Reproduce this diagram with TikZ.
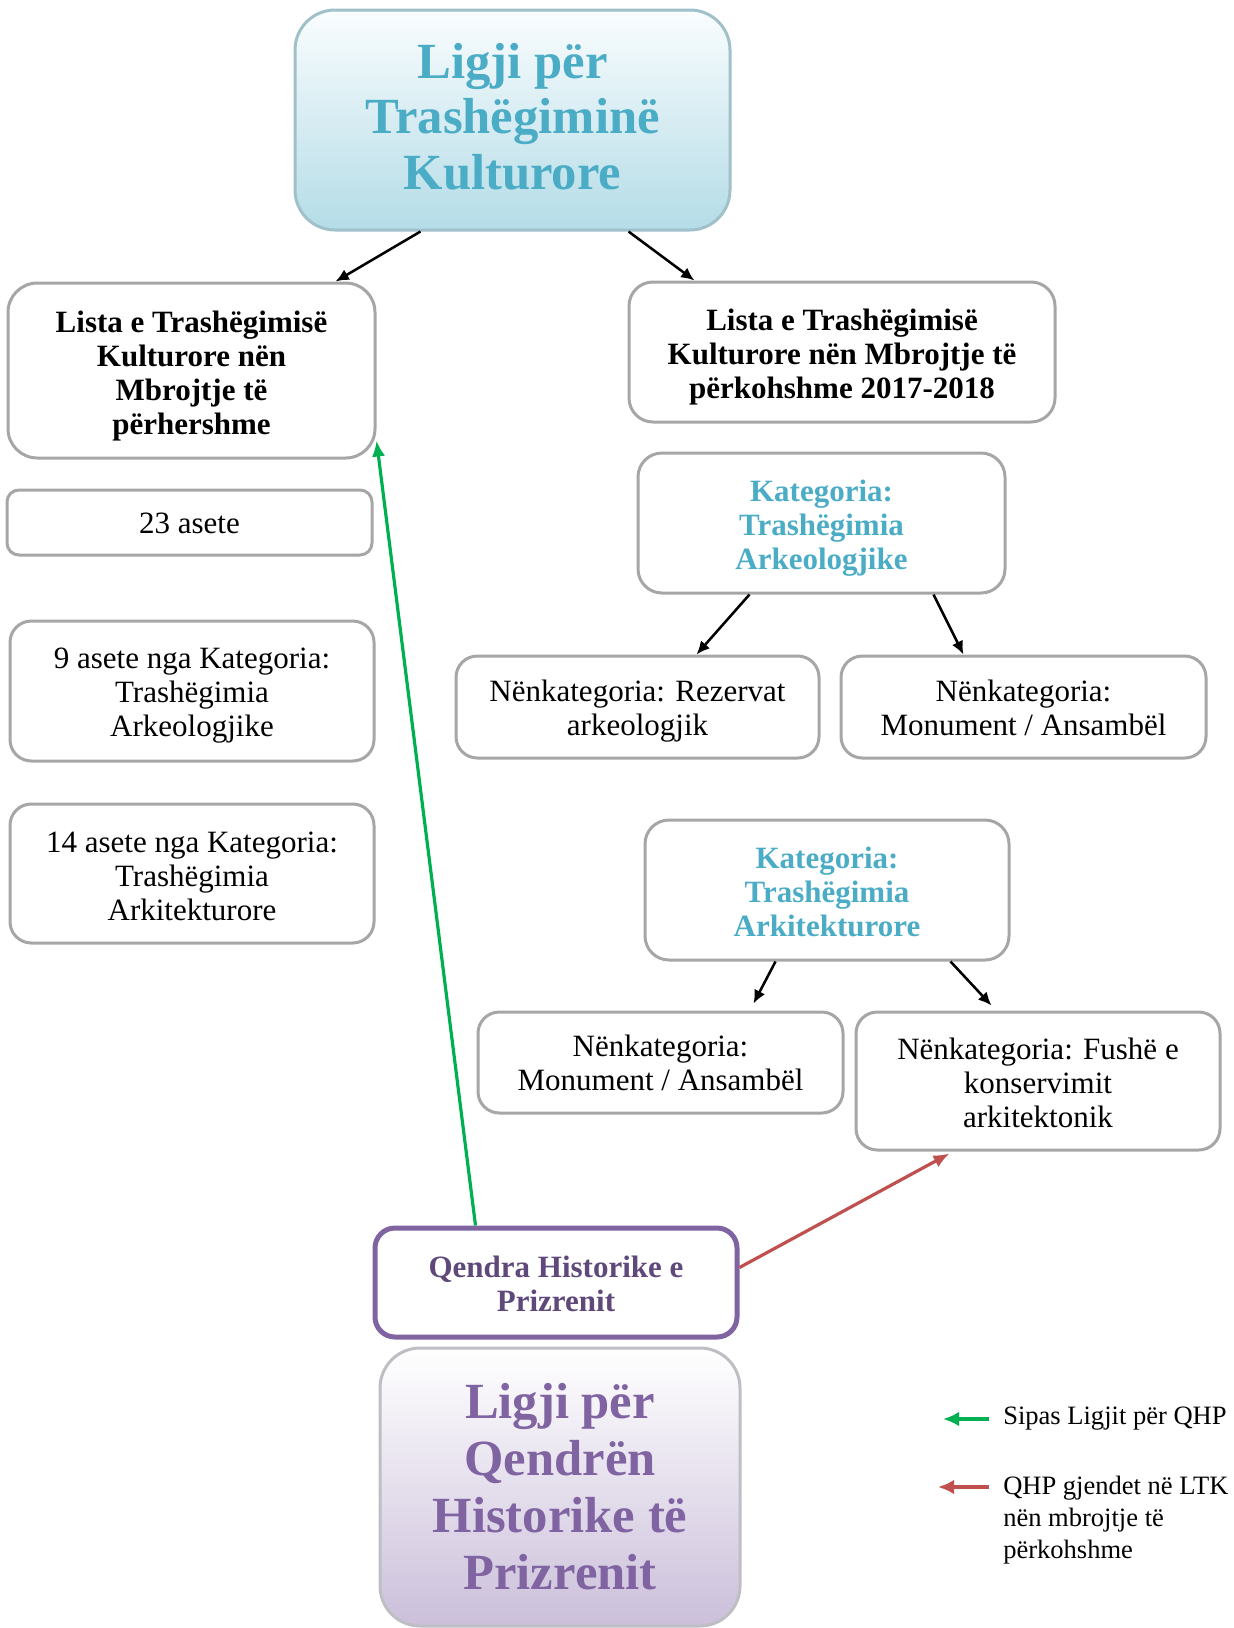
\documentclass[tikz,border=0pt]{standalone}
\usepackage{fontspec}
\setmainfont{Liberation Serif}
\usetikzlibrary{arrows.meta,calc}
\definecolor{gbord}{HTML}{A6A6A6}
\definecolor{blu}{HTML}{4BACC6}
\definecolor{purp}{HTML}{8064A2}
\definecolor{dpurp}{HTML}{5F497A}
\definecolor{grn}{HTML}{00B050}
\definecolor{redd}{HTML}{C0504D}
\begin{document}
\begin{tikzpicture}[x=0.75pt,y=-0.75pt,
  sz/.style 2 args={minimum width=#1*0.75pt, minimum height=#2*0.75pt},
  gbox/.style={draw=gbord, line width=2.25pt, rounded corners=#1, fill=white, inner sep=0pt},
  gbox/.default=16pt,
  reg/.style={inner sep=0pt, align=center, font=\fontsize{23.25}{25.5}\selectfont},
  bold/.style={inner sep=0pt, align=center, font=\fontsize{23.25}{25.5}\selectfont\bfseries},
  hbox/.style={inner sep=0pt, rounded corners=30pt, line width=2.25pt},
  heading/.style={inner sep=0pt, align=center, font=\fontsize{38}{41.6}\selectfont\bfseries},
  conn/.style={line width=1.9pt, -{Latex[length=10pt,width=9pt]}},
  legtext/.style={inner sep=0pt, align=left, anchor=west, font=\fontsize{19.9}{24}\selectfont}
]
\useasboundingbox (0,0) rectangle (1233,1628);

% top heading
\node[hbox, sz={435}{220}, draw={rgb,255:red,160;green,192;blue,202},
  top color={rgb,255:red,250;green,253;blue,254}, bottom color={rgb,255:red,180;green,220;blue,231}]
  (top) at (512.5,120) {};
\node[heading, text=blu] (topt) at ($(top)+(0,-3.6)$) {Ligji për\\Trashëgiminë\\Kulturore};

% left column
\node[gbox=22pt, sz={367}{175}] (left1) at (191.5,370.5) {};
\node[bold] (left1t) at ($(left1)+(0,6)$) {Lista e Trashëgimisë\\Kulturore nën\\Mbrojtje të\\përhershme};
\node[gbox=9pt, sz={365}{65}] (a23) at (189.5,522.5) {};
\node[reg] (a23t) at ($(a23)+(0,1)$) {23 asete};
\node[gbox, sz={364}{140}] (a9) at (192,691) {};
\node[reg] (a9t) at ($(a9)+(0,5)$) {9 asete nga Kategoria:\\Trashëgimia\\Arkeologjike};
\node[gbox, sz={364}{139}] (a14) at (192,873.5) {};
\node[reg] (a14t) at ($(a14)+(0,3)$) {14 asete nga Kategoria:\\Trashëgimia\\Arkitekturore};

% right column
\node[gbox=18pt, sz={426}{140}] (right1) at (842,352) {};
\node[bold] (right1t) at ($(right1)+(0,5)$) {Lista e Trashëgimisë\\Kulturore nën Mbrojtje të\\përkohshme 2017-2018};
\node[gbox=18pt, sz={367}{140}] (katA) at (821.5,523) {};
\node[bold, text=blu] (katAt) at ($(katA)+(0,5)$) {Kategoria:\\Trashëgimia\\Arkeologjike};
\node[gbox, sz={363}{102}] (rez) at (637.5,707) {};
\node[reg] (rezt) at ($(rez)+(0,4)$) {Nënkategoria: Rezervat\\arkeologjik};
\node[gbox, sz={365}{102}] (mon1) at (1023.5,707) {};
\node[reg] (mon1t) at ($(mon1)+(0,1)$) {Nënkategoria:\\Monument / Ansambël};
\node[gbox=18pt, sz={364}{140}] (katB) at (827,890) {};
\node[bold, text=blu] (katBt) at ($(katB)+(0,2)$) {Kategoria:\\Trashëgimia\\Arkitekturore};
\node[gbox, sz={365}{101}] (mon2) at (660.5,1062.5) {};
\node[reg] (mon2t) at (mon2) {Nënkategoria:\\Monument / Ansambël};
\node[gbox, sz={364}{138}] (fushe) at (1038,1081) {};
\node[reg] (fushet) at ($(fushe)+(0,2)$) {Nënkategoria: Fushë e\\konservimit\\arkitektonik};

% Qendra
\node[draw=purp, line width=3.75pt, rounded corners=15pt, fill=white, inner sep=0pt,
  sz={362}{109}] (qendra) at (556,1282.5) {};
\node[bold, text=dpurp] (qendrat) at ($(qendra)+(0,1)$) {Qendra Historike e\\Prizrenit};

% bottom heading
\node[hbox, sz={360}{278}, draw={rgb,255:red,190;green,190;blue,196},
  top color=white, bottom color={rgb,255:red,203;green,191;blue,218}]
  (law2) at (560,1487) {};
\node[heading, text=purp, font=\fontsize{38}{42.75}\selectfont\bfseries] (law2t) at (law2)
  {Ligji për\\Qendrën\\Historike të\\Prizrenit};

% connectors
\draw[conn] ($(top.south west)+(127,0)$) -- ($(left1.north west)+(329,0)$);
\draw[conn] ($(top.south west)+(335,0)$) -- ($(right1.north west)+(67,0)$);
\draw[conn] ($(katA.south west)+(113,0)$) -- ($(rez.north west)+(242,0)$);
\draw[conn] ($(katA.south west)+(297,0)$) -- ($(mon1.north west)+(124,0)$);
\draw[conn] ($(katB.south west)+(132,0)$) -- ($(mon2.north west)+(277,-7)$);
\draw[conn] ($(katB.south west)+(307,0)$) -- ($(fushe.north west)+(137,-5)$);

\draw[grn, line width=2.4pt, -{Latex[length=12pt,width=10pt]}]
  ($(qendra.north west)+(103,0)$) -- ($(left1.south east)+(0,-19)$);
\draw[redd, line width=2.4pt, -{Latex[length=12pt,width=10pt]}]
  ($(qendra.east)+(0,-15)$) -- ($(fushe.south west)+(95,2)$);

% legend
\node[legtext] (leg1) at (1003,1419) {Sipas Ligjit për QHP};
\node[legtext] (leg2) at (1003,1520) {QHP gjendet në LTK\\nën mbrojtje të\\përkohshme};
\draw[grn, line width=3pt, -{Latex[length=12pt,width=11pt]}]
  ($(leg1.west)+(-14,0)$) -- ($(leg1.west)+(-60,0)$);
\draw[redd, line width=3pt, -{Latex[length=12pt,width=11pt]}]
  ($(leg2.west)+(-14,-33)$) -- ($(leg2.west)+(-65,-33)$);
\end{tikzpicture}
\end{document}
